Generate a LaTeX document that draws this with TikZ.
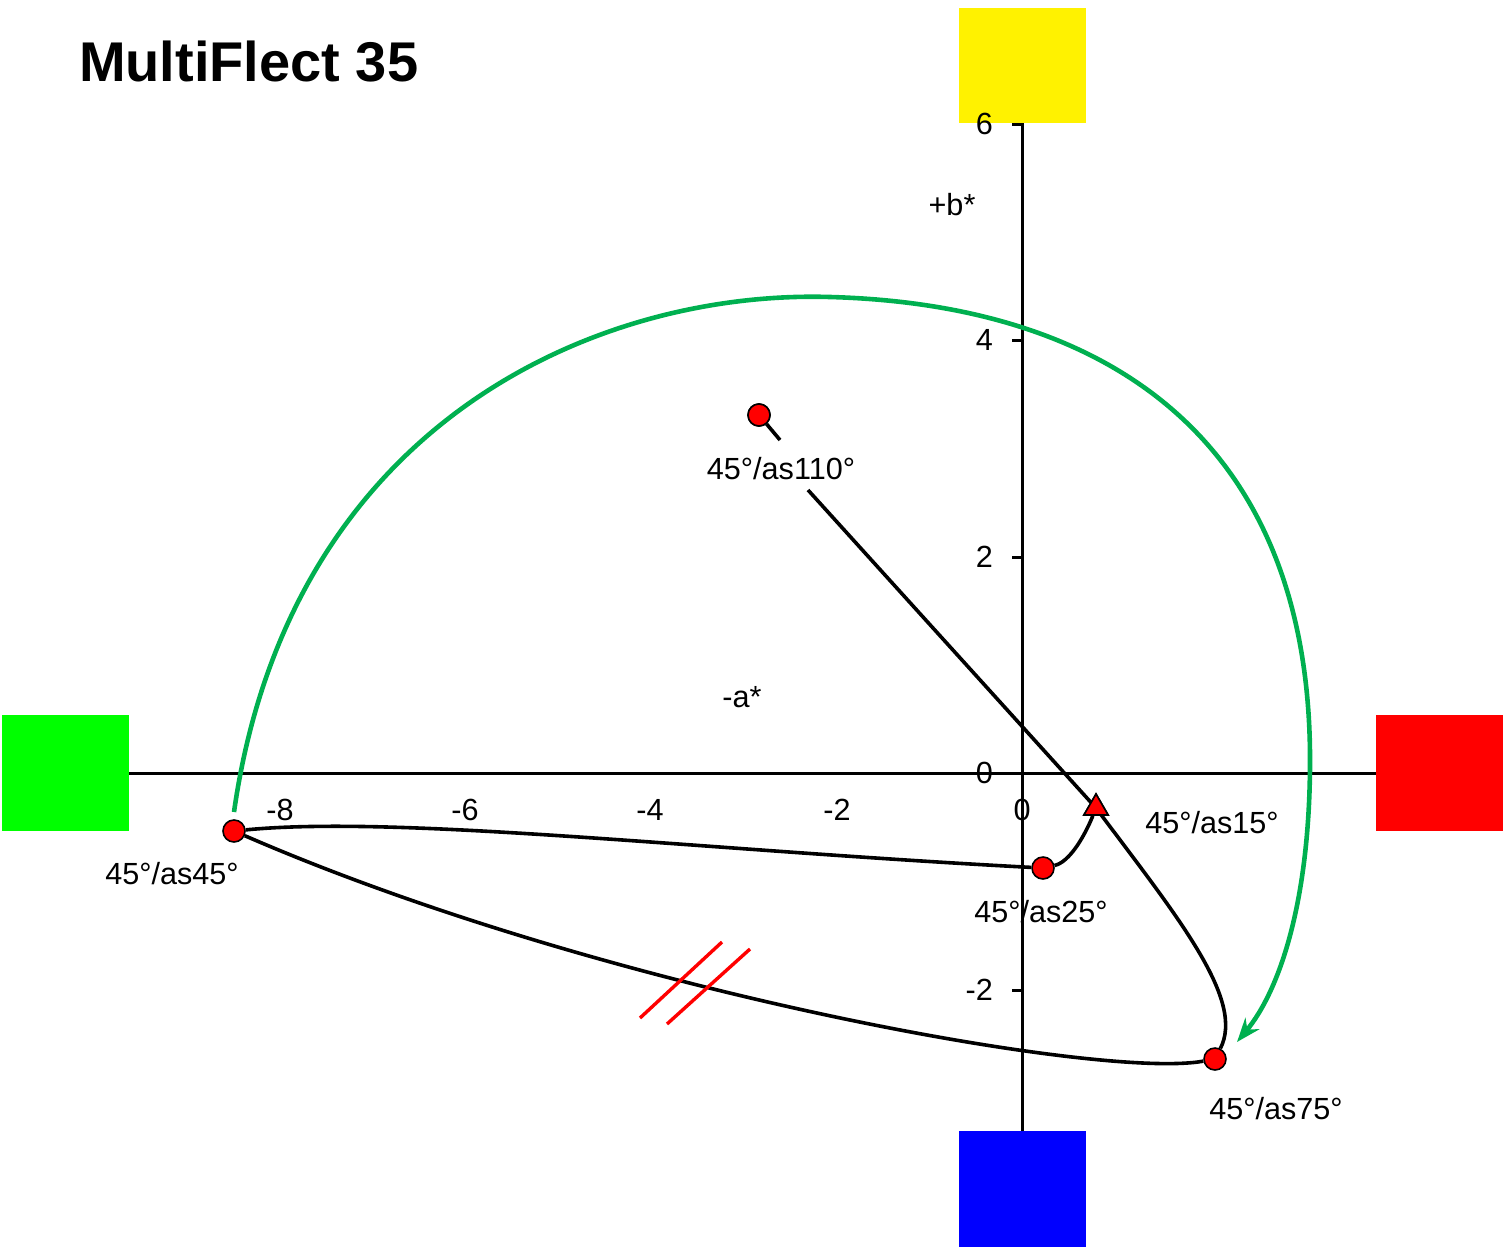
\documentclass[tikz,border=0pt]{standalone}
\usepackage{fontspec}
\setmainfont{Liberation Sans}
\usetikzlibrary{shapes.geometric,arrows.meta}
\begin{document}
\begin{tikzpicture}[x=0.5pt,y=-0.5pt,
  pt/.style={circle,draw=black,fill=red,line width=0.8pt,minimum size=11pt,inner sep=0pt},
  tri/.style={regular polygon,regular polygon sides=3,draw=black,fill=red,line width=0.8pt,minimum size=14pt,inner sep=0pt},
  lbl/.style={font=\fontsize{15.3}{17}\selectfont},
  curve/.style={line width=1.8pt,black},
  axis/.style={line width=1.5pt}]
\useasboundingbox (0,0) rectangle (1507,1247);
% colour squares
\fill[yellow] (959,8) rectangle (1086,123);
\fill[blue] (959,1131) rectangle (1086,1247);
\fill[green] (2,715) rectangle (129,831);
\fill[red] (1376,715) rectangle (1503,831);
% axes
\draw[axis] (129,773) -- (1376,773);
\draw[axis] (1022,123) -- (1022,1131);
\foreach \v/\y in {6/124,4/340,2/557,0/773,-2/990}{
  \draw[axis] (1012,\y) -- (1022,\y);
  \node[lbl,anchor=east] at (1000,\y) {\v};}
\foreach \v/\x in {-8/280,-6/465,-4/650,-2/837,0/1022}{
  \node[lbl] at (\x,810) {\v};}
\node[lbl] at (952,205) {+b*};
\node[lbl] at (742,697) {-a*};
\node[font=\bfseries\fontsize{28}{30}\selectfont,anchor=west] at (72,62) {MultiFlect 35};
% points
\node[pt] (p110) at (759,415) {};
\node[tri] (t) at (1096,808) {};
\node[pt] (p25) at (1043,868) {};
\node[pt] (p45) at (234,831) {};
\node[pt] (p75) at (1215,1059) {};
\coordinate (g1) at (808,490);
\coordinate (g0) at (780,440);
% labels
\node[lbl] (l110) at (781,469) {45°/as110°};
\node[lbl] at (1212,823) {45°/as15°};
\node[lbl] at (1041,912) {45°/as25°};
\node[lbl] at (172,874) {45°/as45°};
\node[lbl] at (1276,1109) {45°/as75°};
% curves
\draw[curve] (p110) -- (g0);
\draw[curve] (g1) -- (t.center);
\draw[curve] (t.center) .. controls (1180,920) and (1245,1000) .. (p75);
\draw[curve] (p75) .. controls (1100,1080) and (600,990) .. (p45);
\draw[curve] (p45) .. controls (400,815) and (700,850) .. (p25);
\draw[curve] (p25) .. controls (1070,862) and (1085,835) .. (t);
\node[tri] at (1096,808) {};
\node[pt] at (759,415) {};
% green arrow
\draw[line width=2.3pt,color={rgb,255:red,0;green,176;blue,80},-{Stealth[length=12pt,width=9pt]}]
  (234,812) .. controls (290,420) and (600,290) .. (830,297)
  .. controls (1120,305) and (1310,450) .. (1310,760)
  .. controls (1310,900) and (1280,990) .. (1237,1042);
% red slashes
\draw[red,line width=1.7pt] (640,1018) -- (722,942);
\draw[red,line width=1.7pt] (667,1024) -- (750,949);
\end{tikzpicture}
\end{document}
